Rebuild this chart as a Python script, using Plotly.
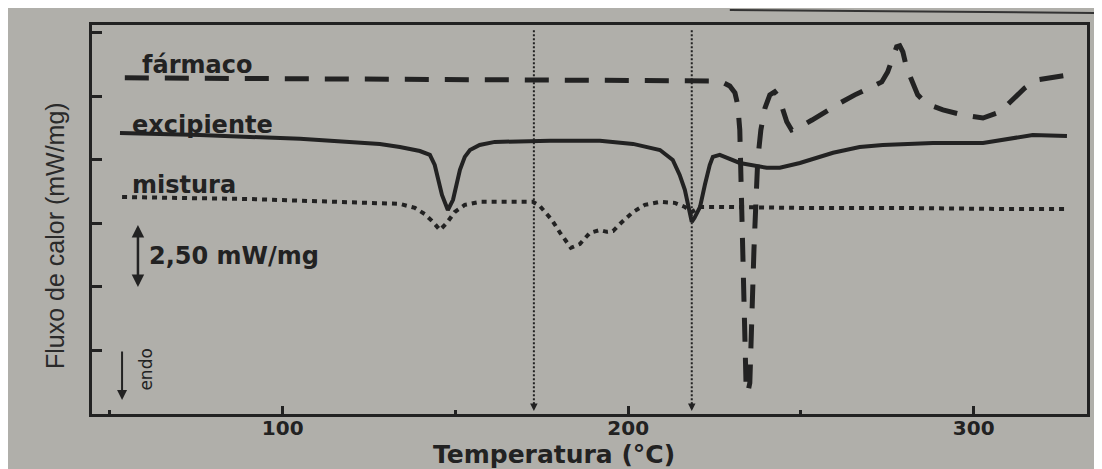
import plotly.graph_objects as go

# ---------------- data ----------------
# Temperature in degC, heat flow in mW/mg (arbitrary offset; 2.50 mW/mg per tick)
farmaco_x = [54.3, 133.9, 224.2, 227.1, 229.4, 230.9, 231.7, 232.3, 232.6, 232.9,
             233.2, 233.5, 233.8, 234.1, 234.6, 235.2, 235.5, 235.8, 236.4, 237.0,
             237.5, 238.4, 239.6, 241.0, 242.4, 243.6, 244.7, 245.9, 247.3, 249.7,
             253.2, 256.9, 261.3, 265.6, 270.0, 273.4, 275.1, 276.6, 277.7, 278.6,
             279.5, 280.6, 282.1, 283.8, 286.4, 291.1, 296.9, 302.7, 307.6, 311.3,
             314.8, 318.3, 322.9, 327.8]
farmaco_y = [13.23, 13.19, 13.11, 13.07, 12.91, 12.64, 12.17, 11.18, 9.61, 7.64,
             5.67, 3.70, 2.13, 1.22, 0.83, 1.22, 2.52, 4.49, 6.46, 8.43,
             10.00, 11.18, 12.05, 12.56, 12.68, 12.48, 11.97, 11.50, 11.18, 11.30,
             11.57, 11.89, 12.24, 12.56, 12.83, 13.07, 13.46, 14.02, 14.45, 14.49,
             14.25, 13.62, 13.07, 12.56, 12.20, 11.97, 11.77, 11.65, 11.89, 12.36,
             12.83, 13.15, 13.27, 13.35]

excipiente_x = [52.9, 76.0, 105.0, 128.1, 133.9, 139.7, 142.6, 144.0, 146.1, 147.8,
                149.3, 151.3, 152.7, 154.2, 157.0, 161.4, 177.4, 191.8, 201.4, 209.2,
                212.9, 214.9, 216.4, 217.9, 218.4, 219.2, 220.8, 222.2, 223.6, 224.5,
                226.5, 232.3, 240.1, 243.9, 249.7, 259.3, 267.0, 273.7, 288.2, 302.7,
                312.5, 317.1, 327.0]
excipiente_y = [11.06, 10.98, 10.83, 10.63, 10.51, 10.35, 10.20, 9.80, 8.62, 8.03,
                8.43, 9.61, 10.12, 10.39, 10.59, 10.71, 10.75, 10.75, 10.63, 10.39,
                10.00, 9.41, 8.82, 7.91, 7.56, 7.72, 8.15, 9.02, 9.80, 10.12,
                10.20, 9.88, 9.69, 9.69, 9.88, 10.28, 10.51, 10.59, 10.67, 10.67,
                10.87, 10.98, 10.94]

mistura_x = [53.5, 90.5, 133.9, 138.3, 141.1, 143.5, 145.5, 147.5, 149.8, 152.7,
             157.0, 172.4, 174.4, 176.5, 177.9, 180.3, 182.3, 183.4, 186.0, 188.9,
             191.8, 193.8, 195.6, 197.6, 201.4, 204.8, 209.2, 213.5, 216.4, 218.4,
             220.8, 226.5, 249.7, 278.6, 307.6, 327.3]
mistura_y = [8.54, 8.46, 8.27, 8.11, 7.87, 7.56, 7.24, 7.52, 7.95, 8.23,
             8.35, 8.35, 8.19, 7.87, 7.64, 7.13, 6.77, 6.54, 6.69, 7.13,
             7.24, 7.17, 7.20, 7.48, 7.95, 8.23, 8.35, 8.31, 8.15, 7.95,
             8.15, 8.15, 8.11, 8.11, 8.07, 8.07]

marker_lines_x = [172.7, 218.4]      # vertical dotted reference lines (degC)
marker_lines_y = [15.1, 0.2]         # top / bottom of the reference lines

series_labels = ["fármaco", "excipiente", "mistura"]
label_x = [58.7, 55.8, 55.8]
label_y = [13.74, 11.38, 9.02]

x_tick_vals = [100, 200, 300]
y_tick_vals = [2.5, 5.0, 7.5, 10.0, 12.5, 15.0]
scale_bar = [5.0, 7.5]               # 2,50 mW/mg scale arrow
scale_bar_x = 58.1

# ---------------- styling ----------------
INK = "#222222"
BG = "#b0afaa"
BOLD = dict(family="DejaVu Sans", weight="bold", color=INK)

fig = go.Figure()

fig.add_trace(go.Scatter(x=farmaco_x, y=farmaco_y, mode="lines",
                         line=dict(color=INK, width=5, dash="24px,16px"),
                         hoverinfo="skip"))
fig.add_trace(go.Scatter(x=excipiente_x, y=excipiente_y, mode="lines",
                         line=dict(color=INK, width=4),
                         hoverinfo="skip"))
fig.add_trace(go.Scatter(x=mistura_x, y=mistura_y, mode="lines",
                         line=dict(color=INK, width=4, dash="5px,5px"),
                         hoverinfo="skip"))
for vx in marker_lines_x:
    fig.add_trace(go.Scatter(x=[vx, vx], y=marker_lines_y, mode="lines",
                             line=dict(color=INK, width=2, dash="2px,2px"),
                             hoverinfo="skip"))

annotations = []
for txt, lx, ly in zip(series_labels, label_x, label_y):
    annotations.append(dict(x=lx, y=ly, xref="x", yref="y", text=txt,
                            showarrow=False, xanchor="left", yanchor="middle",
                            font=dict(size=24, **BOLD)))
# scale arrow
annotations.append(dict(x=scale_bar_x, y=scale_bar[0], ax=scale_bar_x, ay=scale_bar[1],
                        xref="x", yref="y", axref="x", ayref="y", text="",
                        showarrow=True, arrowhead=2, arrowside="end+start",
                        arrowsize=1, arrowwidth=2.5, arrowcolor=INK))
annotations.append(dict(x=60.7, y=6.22, xref="x", yref="y", text="2,50 mW/mg",
                        showarrow=False, xanchor="left", yanchor="middle",
                        font=dict(size=24, **BOLD)))
# endo arrow
annotations.append(dict(x=53.5, y=0.55, ax=53.5, ay=2.52,
                        xref="x", yref="y", axref="x", ayref="y", text="",
                        showarrow=True, arrowhead=2, arrowsize=1, arrowwidth=2,
                        arrowcolor=INK))
annotations.append(dict(x=60.3, y=1.73, xref="x", yref="y", text="endo",
                        showarrow=False, textangle=-90,
                        font=dict(size=17, family="DejaVu Sans", color=INK)))
# arrowheads at the bottom of the dotted lines
for vx in marker_lines_x:
    annotations.append(dict(x=vx, y=0.12, xref="x", yref="y", ax=0, ay=-10,
                            text="", showarrow=True, arrowhead=2, arrowsize=1,
                            arrowwidth=1.5, arrowcolor=INK))
# axis titles
annotations.append(dict(x=0.464, y=-0.104, xref="paper", yref="paper",
                        text="Temperatura (°C)", showarrow=False,
                        xanchor="center", yanchor="middle", borderpad=0,
                        font=dict(size=25, **BOLD)))
annotations.append(dict(x=-0.0372, y=0.46, xref="paper", yref="paper",
                        text="Fluxo de calor (mW/mg)", showarrow=False,
                        textangle=-90, xanchor="center", yanchor="middle",
                        font=dict(size=25, family="Liberation Sans", color="#2a2a2a")))

shapes = [
    # page edge at top right of the photo
    dict(type="line", xref="paper", yref="paper", x0=0.641, x1=1.015, y0=1.0386, y1=1.0308,
         line=dict(color="#333333", width=2)),
]

# the page body keeps its 8px white margin, which plays the photo's white border
fig.update_layout(
    width=1094, height=461,
    margin=dict(l=84, r=15, t=17, b=55),
    paper_bgcolor=BG, plot_bgcolor=BG,
    showlegend=False,
    annotations=annotations, shapes=shapes,
    xaxis=dict(range=[44.8, 332.8], showgrid=False, zeroline=False,
               showline=True, linecolor=INK, linewidth=3, mirror=True,
               ticks="inside", ticklen=8, tickwidth=3, tickcolor=INK,
               tickvals=x_tick_vals, ticklabelstandoff=-6,
               minor=dict(ticks="inside", ticklen=4, tickwidth=3, tickcolor=INK, dtick=50, tick0=0),
               tickfont=dict(size=20, **BOLD)),
    yaxis=dict(range=[0, 15.31], showgrid=False, zeroline=False,
               showline=True, linecolor=INK, linewidth=3, mirror=True,
               ticks="inside", ticklen=10, tickwidth=3, tickcolor=INK,
               tickvals=y_tick_vals, showticklabels=False),
)

fig.write_html("out.html")
